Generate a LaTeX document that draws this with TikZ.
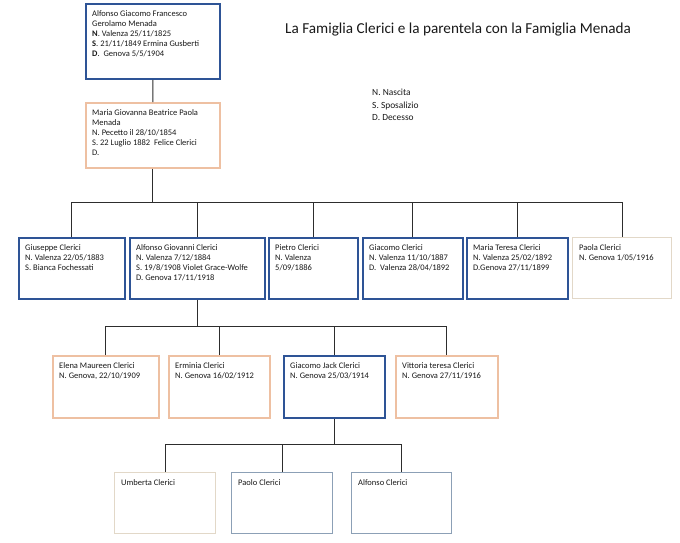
\documentclass[tikz,border=0pt]{standalone}
\usepackage{fontspec}
\setmainfont{Carlito}
\definecolor{bblue}{RGB}{46,84,150}
\definecolor{peach}{RGB}{238,192,162}
\definecolor{beige}{RGB}{226,216,200}
\definecolor{gblue}{RGB}{140,160,182}
\definecolor{ink}{RGB}{25,25,25}
\definecolor{wire}{RGB}{45,45,45}
\tikzset{
  boxb/.style={draw=bblue, line width=1.8pt},
  boxp/.style={draw=peach, line width=1.6pt},
  boxl/.style={draw=beige, line width=1.2pt},
  boxg/.style={draw=gblue, line width=1.2pt},
  ptxt/.style={anchor=north west, align=left, inner sep=0pt, text=ink, font=\fontsize{8.5}{10}\selectfont},
  wirestyle/.style={draw=wire, line width=0.9pt},
}
\newcommand\pbox[7]{%
  \node[#6, anchor=north west, inner sep=0pt, minimum width={(#4-#2)*1pt}, minimum height={(#5-#3)*1pt}] (#1) at (#2,#3) {};
  \node[ptxt] (#1t) at ([xshift=7pt,yshift=-7pt]#1.north west) {#7};}
\begin{document}
\begin{tikzpicture}[x=1pt,y=-1pt]
\useasboundingbox[fill=white] (0,0) rectangle (680,542);
% title & legend
\node[anchor=west, inner sep=0pt, text=ink, font=\fontsize{15.2}{18}\selectfont] (title) at (285,30) {La Famiglia Clerici e la parentela con la Famiglia Menada};
\node[anchor=north west, align=left, inner sep=0pt, text=ink, font=\fontsize{9.4}{12.5}\selectfont] (legend) at (372,89) {N. Nascita\\S. Sposalizio\\D. Decesso};
% generation 1
\pbox{A}{85}{3}{219}{78}{boxb}{Alfonso Giacomo Francesco\\Gerolamo Menada\\\textbf{N}. Valenza 25/11/1825\\\textbf{S}. 21/11/1849 Ermina Gusberti\\\textbf{D}.\ \ Genova 5/5/1904}
\pbox{B}{85}{102}{219}{167}{boxp}{Maria Giovanna Beatrice Paola\\Menada\\N. Pecetto il 28/10/1854\\S. 22 Luglio 1882\ \ Felice Clerici\\D.}
% generation 2
\pbox{C1}{18}{237}{124}{298}{boxb}{Giuseppe Clerici\\N. Valenza 22/05/1883\\S. Bianca Fochessati}
\pbox{C2}{129}{237}{264}{298}{boxb}{Alfonso Giovanni Clerici\\N. Valenza 7/12/1884\\S. 19/8/1908 Violet Grace-Wolfe\\D. Genova 17/11/1918}
\pbox{C3}{268}{237}{357}{298}{boxb}{Pietro Clerici\\N. Valenza\\5/09/1886}
\pbox{C4}{362}{237}{462}{298}{boxb}{Giacomo Clerici\\N. Valenza 11/10/1887\\D.\ \ Valenza 28/04/1892}
\pbox{C5}{466}{237}{567}{298}{boxb}{Maria Teresa Clerici\\N. Valenza 25/02/1892\\D.Genova 27/11/1899}
\pbox{C6}{572}{237}{671}{298}{boxl}{Paola Clerici\\N. Genova 1/05/1916}
% generation 3
\pbox{D1}{52}{355}{158}{417}{boxp}{Elena Maureen Clerici\\N. Genova, 22/10/1909}
\pbox{D2}{168}{355}{269}{417}{boxp}{Erminia Clerici\\N. Genova 16/02/1912}
\pbox{D3}{283}{355}{384}{417}{boxb}{Giacomo Jack Clerici\\N. Genova 25/03/1914}
\pbox{D4}{395}{355}{497}{417}{boxp}{Vittoria teresa Clerici\\N. Genova 27/11/1916}
% generation 4
\pbox{E1}{114}{472}{215}{533}{boxl}{Umberta Clerici}
\pbox{E2}{231}{472}{332}{533}{boxg}{Paolo Clerici}
\pbox{E3}{351}{472}{451}{533}{boxg}{Alfonso Clerici}
% connectors
\coordinate (bus1) at (0,202.5);
\coordinate (bus2) at (0,326);
\coordinate (bus3) at (0,444);
\draw[wirestyle] (A.south) -- (B.north);
\draw[wirestyle] (B.south) -- (B.south |- bus1);
\draw[wirestyle] (C1.north) |- (C6.north |- bus1) -- (C6.north);
\foreach \c in {C2,C3,C4,C5} \draw[wirestyle] (\c.north) -- (\c.north |- bus1);
\draw[wirestyle] (C2.south) -- (C2.south |- bus2);
\draw[wirestyle] (D1.north) |- (D4.north |- bus2) -- (D4.north);
\foreach \c in {D2,D3} \draw[wirestyle] (\c.north) -- (\c.north |- bus2);
\draw[wirestyle] (D3.south) -- (D3.south |- bus3);
\draw[wirestyle] (E1.north) |- (E3.north |- bus3) -- (E3.north);
\draw[wirestyle] (E2.north) -- (E2.north |- bus3);
\end{tikzpicture}
\end{document}
